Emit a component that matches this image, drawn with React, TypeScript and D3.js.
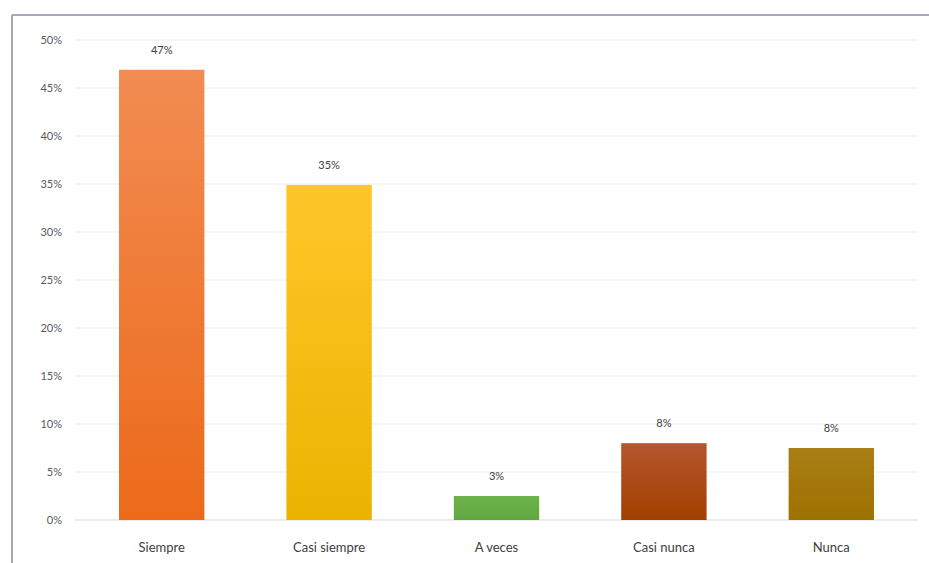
import React, { useEffect } from "react";
import * as d3 from "d3";

const categories = ["Siempre", "Casi siempre", "A veces", "Casi nunca", "Nunca"];
const values = [0.469, 0.349, 0.025, 0.08, 0.075];
const valueLabels = ["47%", "35%", "3%", "8%", "8%"];
const yTicks = [0, 0.05, 0.1, 0.15, 0.2, 0.25, 0.3, 0.35, 0.4, 0.45, 0.5];
const colorsTop = ["#F28C52", "#FFC62A", "#6DB34C", "#B4562E", "#A97E16"];
const colorsBottom = ["#EC6A1A", "#EBB300", "#5FA83E", "#A23F00", "#9E7200"];

const W = 929;
const H = 563;
const M = { left: 78, right: 14, top: 40, bottom: 43 };

export default function App() {
  useEffect(() => {
    document.body.style.margin = "0";
  }, []);
  const x = d3
    .scaleBand<string>()
    .domain(categories)
    .range([M.left, W - M.right])
    .paddingInner(0.49)
    .paddingOuter(0.245);
  const y = d3.scaleLinear().domain([0, 0.5]).range([H - M.bottom, M.top]);
  const fmt = d3.format(".0%");
  const font = "Lato, 'Open Sans', sans-serif";
  return (
    <svg width={W} height={H} style={{ display: "block", background: "#fff" }}>
      <defs>
        {categories.map((c, i) => (
          <linearGradient key={c} id={`g${i}`} x1="0" y1="0" x2="0" y2="1">
            <stop offset="0%" stopColor={colorsTop[i]} />
            <stop offset="100%" stopColor={colorsBottom[i]} />
          </linearGradient>
        ))}
      </defs>
      <line x1={12} x2={W} y1={15} y2={15} stroke="#A6A6BC" strokeWidth={2} />
      <line x1={12} x2={12} y1={15} y2={H} stroke="#A6A6BC" strokeWidth={2} />
      {yTicks.map((t) => (
        <g key={t}>
          <line
            x1={75}
            x2={918}
            y1={y(t)}
            y2={y(t)}
            stroke={t === 0 ? "#D9D9D9" : "#EDEDED"}
            strokeWidth={1}
          />
          <text
            x={62}
            y={y(t)}
            dy="0.35em"
            textAnchor="end"
            fontFamily={font}
            fontSize={11}
            fill="#595959"
          >
            {fmt(t)}
          </text>
        </g>
      ))}
      {categories.map((c, i) => {
        const bx = x(c)!;
        const bw = x.bandwidth();
        return (
          <g key={c}>
            <rect
              x={bx}
              y={y(values[i])}
              width={bw}
              height={y(0) - y(values[i])}
              fill={`url(#g${i})`}
            />
            <text
              x={bx + bw / 2}
              y={y(values[i]) - 16}
              textAnchor="middle"
              fontFamily={font}
              fontSize={11}
              fill="#404040"
            >
              {valueLabels[i]}
            </text>
            <text
              x={bx + bw / 2}
              y={552}
              textAnchor="middle"
              fontFamily={font}
              fontSize={13}
              fill="#404040"
            >
              {c}
            </text>
          </g>
        );
      })}
    </svg>
  );
}
